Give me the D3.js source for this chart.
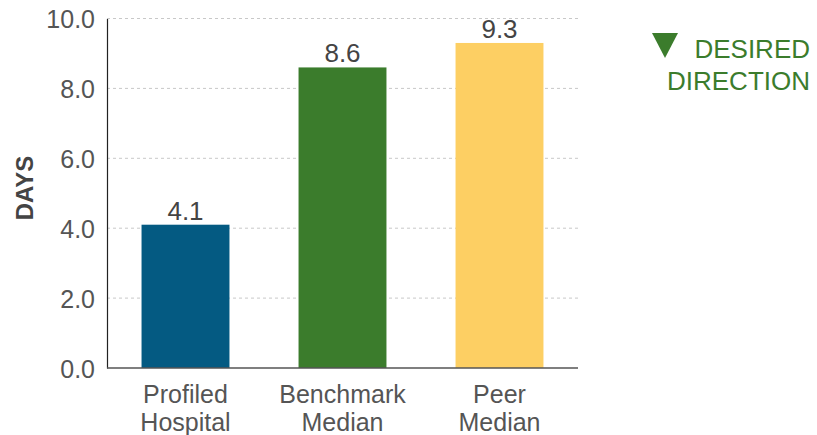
<!DOCTYPE html>
<html><head><meta charset="utf-8">
<script src="https://cdn.jsdelivr.net/npm/d3@7"></script>
<style>body{margin:0;background:#fff}svg{display:block;font-family:"Liberation Sans",Arial,sans-serif}</style>
</head><body><svg id="c" width="817" height="435"></svg>
<script>
const categories = [["Profiled","Hospital"],["Benchmark","Median"],["Peer","Median"]];
const values = [4.1, 8.6, 9.3];
const colors = ["#045a82","#3b7c2c","#fdcf63"];
const yTicks = [0,2,4,6,8,10];
const yLabel = "DAYS";
const legendLines = ["DESIRED","DIRECTION"];

(function(){
const svg = d3.select("#c");
const pL = 107, pR = 578, pT = 18.5, pB = 368;
const x = d3.scaleBand().domain(categories.map((d,i)=>i)).range([pL,pR]).paddingInner(0.44).paddingOuter(0.22);
const y = d3.scaleLinear().domain([0,10]).range([pB,pT]);

// gridlines
svg.append("g").selectAll("line").data(yTicks.filter(t=>t>0)).join("line")
  .attr("x1",pL).attr("x2",pR).attr("y1",d=>y(d)).attr("y2",d=>y(d))
  .attr("stroke","#c8c8c8").attr("stroke-dasharray","3,3").attr("stroke-width",1);

// y axis
const yAxis = svg.append("g").attr("transform",`translate(${pL},0)`)
  .call(d3.axisLeft(y).tickValues(yTicks).tickFormat(d3.format(".1f")).tickSize(0).tickPadding(12));
yAxis.select(".domain").attr("stroke","#222").attr("stroke-width",1.2);
yAxis.selectAll("text").attr("font-size",25).attr("fill","#555").attr("dy","0.36em").style("font-family","'Liberation Sans',Arial,sans-serif");

// bars
svg.append("g").selectAll("rect").data(values).join("rect")
  .attr("x",(d,i)=>x(i)).attr("width",x.bandwidth())
  .attr("y",d=>y(d)).attr("height",d=>pB-y(d))
  .attr("fill",(d,i)=>colors[i]);

// x axis line
svg.append("line").attr("x1",pL).attr("x2",pR).attr("y1",pB).attr("y2",pB)
  .attr("stroke","#555").attr("stroke-width",1.5);

// value labels
svg.append("g").selectAll("text").data(values).join("text")
  .attr("x",(d,i)=>x(i)+x.bandwidth()/2).attr("y",d=>y(d)-5)
  .attr("text-anchor","middle").attr("font-size",26).attr("fill","#444")
  .text(d=>d.toFixed(1));

// category labels
const cl = svg.append("g").selectAll("text").data(categories).join("text")
  .attr("text-anchor","middle").attr("font-size",25).attr("fill","#555");
cl.each(function(d,i){
  const t = d3.select(this);
  d.forEach((line,j)=>{
    t.append("tspan").attr("x",x(i)+x.bandwidth()/2).attr("y",403.3+j*28).text(line);
  });
});

// y label
svg.append("text").attr("transform","translate(32.5,188) rotate(-90)")
  .attr("text-anchor","middle").attr("font-size",24).attr("font-weight","bold").attr("fill","#444")
  .text(yLabel);

// legend
const lg = "#3b7c2c";
svg.append("path").attr("d","M652,33 L678,33 L665,58 Z").attr("fill",lg);
svg.append("g").selectAll("text").data(legendLines).join("text")
  .attr("x",810).attr("y",(d,i)=>57.5+i*32.5).attr("text-anchor","end")
  .attr("font-size",26).attr("fill",lg).text(d=>d);
})();
</script></body></html>
